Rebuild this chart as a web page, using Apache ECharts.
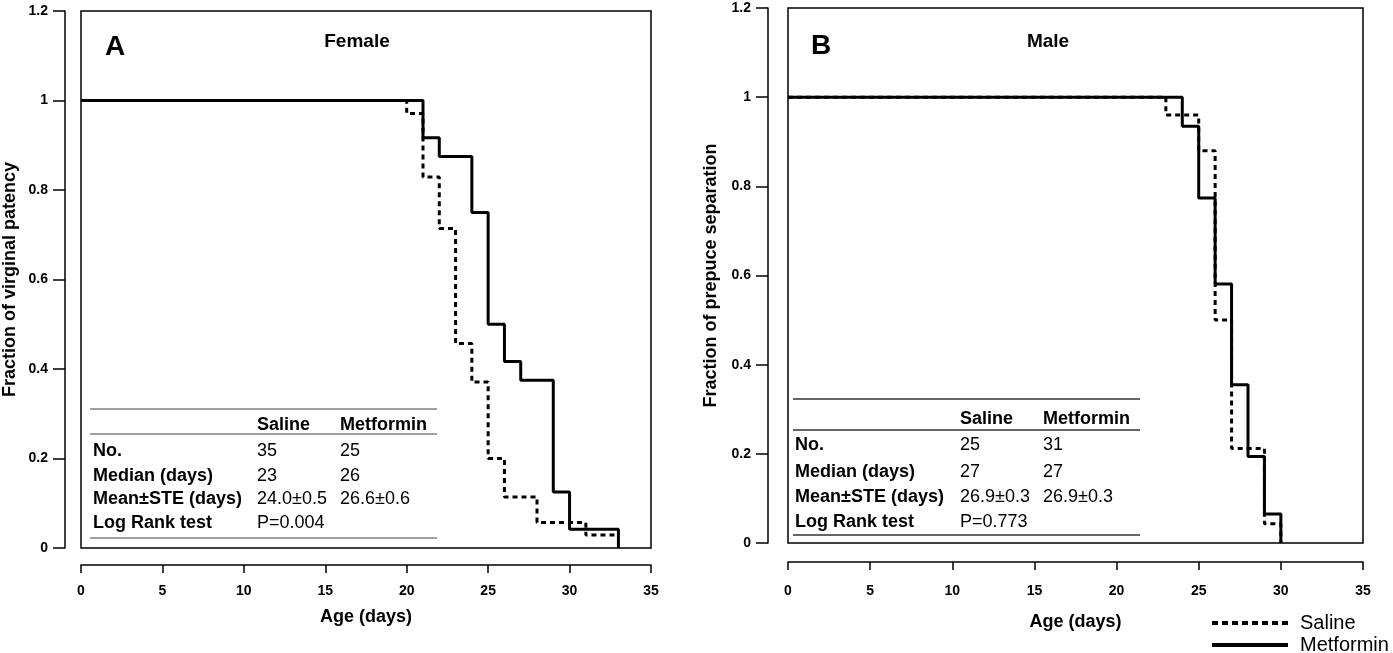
<!DOCTYPE html>
<html>
<head>
<meta charset="utf-8">
<script src="https://cdn.jsdelivr.net/npm/echarts@6/dist/echarts.min.js"></script>
<style>
html,body{margin:0;padding:0;background:#fff;}
#c{width:1393px;height:653px;}
</style>
</head>
<body>
<div id="c"></div>
<script>
// ---- Data (Kaplan-Meier step curves) ----
const femaleSalineTime = [0, 20, 21, 22, 23, 24, 25, 26, 28, 31, 33];
const femaleSalineSurv = [1, 0.971, 0.829, 0.714, 0.457, 0.371, 0.2, 0.114, 0.057, 0.029, 0.029];
const femaleMetTime = [0, 21, 22, 24, 25, 26, 27, 29, 30, 33];
const femaleMetSurv = [1, 0.917, 0.875, 0.75, 0.5, 0.417, 0.375, 0.125, 0.042, 0];

const maleSalineTime = [0, 23, 25, 26, 27, 29, 30];
const maleSalineSurv = [1, 0.96, 0.88, 0.5, 0.212, 0.043, 0];
const maleMetTime = [0, 24, 25, 26, 27, 28, 29, 30];
const maleMetSurv = [1, 0.935, 0.774, 0.581, 0.355, 0.194, 0.065, 0];

const seriesNames = ['Saline', 'Metformin'];
const panelTitles = ['Female', 'Male'];
const panelLetters = ['A', 'B'];
const yTitles = ['Fraction of virginal patency', 'Fraction of prepuce separation'];
const xTitle = 'Age (days)';

const tableHeader = ['', 'Saline', 'Metformin'];
const tableRowLabels = ['No.', 'Median (days)', 'Mean\u00b1STE (days)', 'Log Rank test'];
const femaleTable = [['35', '25'], ['23', '26'], ['24.0\u00b10.5', '26.6\u00b10.6'], ['P=0.004', '']];
const maleTable = [['25', '31'], ['27', '27'], ['26.9\u00b10.3', '26.9\u00b10.3'], ['P=0.773', '']];

function pairs(t, s) { return t.map((v, i) => [v, s[i]]); }

const FONT = '"Liberation Sans", Arial, sans-serif';

const chart = echarts.init(document.getElementById('c'));

const grids = [
  { left: 81, top: 11, width: 570, height: 537, show: true, borderColor: '#000', borderWidth: 1.5, backgroundColor: 'transparent' },
  { left: 788, top: 8, width: 575, height: 535, show: true, borderColor: '#000', borderWidth: 1.5, backgroundColor: 'transparent' }
];

function xAxis(gi, offset, gap, margin) {
  return {
    type: 'value', gridIndex: gi, min: 0, max: 35, interval: 5, offset: offset,
    name: xTitle, nameLocation: 'middle', nameGap: gap,
    nameTextStyle: { fontFamily: FONT, fontWeight: 'bold', fontSize: 18, color: '#000' },
    axisLine: { show: true, onZero: false, lineStyle: { color: '#000', width: 1.5 } },
    axisTick: { show: true, inside: false, length: 8, lineStyle: { color: '#000', width: 1.5 } },
    axisLabel: { fontFamily: FONT, fontWeight: 'bold', fontSize: 14, color: '#000', margin: margin },
    splitLine: { show: false }
  };
}
function yAxis(gi, offset, gap) {
  return {
    type: 'value', gridIndex: gi, min: 0, max: 1.2, interval: 0.2, offset: offset,
    name: yTitles[gi], nameLocation: 'middle', nameGap: gap, nameRotate: 90,
    nameTextStyle: { fontFamily: FONT, fontWeight: 'bold', fontSize: 18, color: '#000' },
    axisLine: { show: true, onZero: false, lineStyle: { color: '#000', width: 1.5 } },
    axisTick: { show: true, inside: false, length: 12, lineStyle: { color: '#000', width: 1.5 } },
    axisLabel: { fontFamily: FONT, fontWeight: 'bold', fontSize: 14, color: '#000', margin: 17 },
    splitLine: { show: false }
  };
}

function kmSeries(name, gi, data, dashed) {
  return {
    name: name, type: 'line', xAxisIndex: gi, yAxisIndex: gi, step: 'end',
    data: data, symbol: 'none', showSymbol: false, animation: false,
    z: dashed ? 2 : 3,
    lineStyle: { color: '#000', width: 3, type: dashed ? [5, 4] : 'solid' },
    itemStyle: { color: '#000' }
  };
}

// ---- table graphics ----
function tableGraphics(cfg, header, labels, rows) {
  const g = [];
  const lineStyle = { stroke: cfg.lineColor, lineWidth: 1.5 };
  [cfg.top, cfg.mid, cfg.bottom].forEach(y => {
    g.push({ type: 'line', shape: { x1: cfg.x0, y1: y, x2: cfg.x1, y2: y }, style: lineStyle, silent: true });
  });
  const txt = (x, y, s, bold) => g.push({
    type: 'text', x: x, y: y, silent: true,
    style: { text: s, fill: '#000', font: (bold ? 'bold ' : '') + '18px ' + FONT, textVerticalAlign: 'middle', verticalAlign: 'middle' }
  });
  txt(cfg.c1, cfg.headerY, header[1], true);
  txt(cfg.c2, cfg.headerY, header[2], true);
  labels.forEach((lab, i) => {
    txt(cfg.c0, cfg.rowsY[i], lab, true);
    txt(cfg.c1, cfg.rowsY[i], rows[i][0], false);
    if (rows[i][1]) txt(cfg.c2, cfg.rowsY[i], rows[i][1], false);
  });
  return g;
}

// ---- legend (drawn as graphics, bottom right) ----
const legendGraphics = [
  { type: 'line', silent: true, shape: { x1: 1212, y1: 623, x2: 1288, y2: 623 }, style: { stroke: '#000', lineWidth: 4, lineDash: [6, 4] } },
  { type: 'text', x: 1300, y: 623, silent: true, style: { text: seriesNames[0], fill: '#000', font: '20px ' + FONT, verticalAlign: 'middle', textVerticalAlign: 'middle' } },
  { type: 'line', silent: true, shape: { x1: 1212, y1: 645, x2: 1288, y2: 645 }, style: { stroke: '#000', lineWidth: 4 } },
  { type: 'text', x: 1300, y: 645, silent: true, style: { text: seriesNames[1], fill: '#000', font: '20px ' + FONT, verticalAlign: 'middle', textVerticalAlign: 'middle' } }
];

const graphics = [].concat(
  tableGraphics({ x0: 90, x1: 437, top: 409, mid: 434, bottom: 538, lineColor: '#808080',
    c0: 93, c1: 257, c2: 340, headerY: 425, rowsY: [451, 476, 499, 523] },
    tableHeader, tableRowLabels, femaleTable),
  tableGraphics({ x0: 793, x1: 1140, top: 399, mid: 430, bottom: 535, lineColor: '#333',
    c0: 795, c1: 960, c2: 1043, headerY: 419, rowsY: [445, 472, 497, 522] },
    tableHeader, tableRowLabels, maleTable),
  [
    { type: 'text', x: 105, y: 47, silent: true, style: { text: panelLetters[0], fill: '#000', font: 'bold 28px ' + FONT, verticalAlign: 'middle', textVerticalAlign: 'middle' } },
    { type: 'text', x: 357, y: 42, silent: true, style: { text: panelTitles[0], fill: '#000', font: 'bold 19px ' + FONT, align: 'center', textAlign: 'center', verticalAlign: 'middle', textVerticalAlign: 'middle' } },
    { type: 'text', x: 811, y: 46, silent: true, style: { text: panelLetters[1], fill: '#000', font: 'bold 28px ' + FONT, verticalAlign: 'middle', textVerticalAlign: 'middle' } },
    { type: 'text', x: 1048, y: 42, silent: true, style: { text: panelTitles[1], fill: '#000', font: 'bold 19px ' + FONT, align: 'center', textAlign: 'center', verticalAlign: 'middle', textVerticalAlign: 'middle' } }
  ],
  legendGraphics
);

chart.setOption({
  animation: false,
  backgroundColor: '#fff',
  grid: grids,
  xAxis: [xAxis(0, 17, 43, 19), xAxis(1, 19, 51, 22)],
  yAxis: [yAxis(0, 16, 46), yAxis(1, 20, 48)],
  series: [
    kmSeries(seriesNames[0], 0, pairs(femaleSalineTime, femaleSalineSurv), true),
    kmSeries(seriesNames[1], 0, pairs(femaleMetTime, femaleMetSurv), false),
    kmSeries(seriesNames[0], 1, pairs(maleSalineTime, maleSalineSurv), true),
    kmSeries(seriesNames[1], 1, pairs(maleMetTime, maleMetSurv), false)
  ],
  graphic: graphics
});
</script>
</body>
</html>
